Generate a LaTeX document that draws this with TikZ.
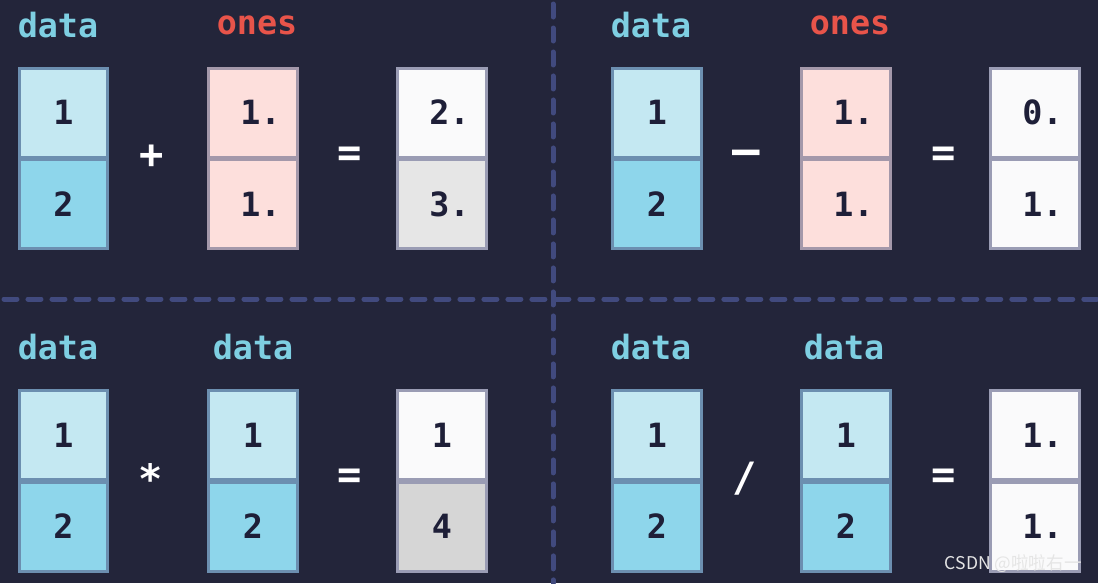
\documentclass[tikz,border=0pt]{standalone}
\usepackage{fontspec}
\setmonofont{DejaVu Sans Mono}
\newfontfamily\cjkfont{Noto Sans CJK SC}
\definecolor{bg}{HTML}{23253A}
\definecolor{dashc}{HTML}{414A7E}
\definecolor{dlight}{HTML}{C4E8F2}
\definecolor{ddark}{HTML}{8ED6EB}
\definecolor{dborder}{HTML}{6C8FB0}
\definecolor{opink}{HTML}{FDDFDC}
\definecolor{oborder}{HTML}{A498AA}
\definecolor{rwhite}{HTML}{FAFAFB}
\definecolor{rgray}{HTML}{E6E6E6}
\definecolor{rgrayd}{HTML}{D6D6D6}
\definecolor{rborder}{HTML}{9A9CB4}
\definecolor{txt}{HTML}{1E1F38}
\definecolor{lblue}{HTML}{7ECFE2}
\definecolor{lred}{HTML}{E8544A}
\tikzset{
  cell/.style={rectangle, inner sep=0pt, minimum width=1.78cm, minimum height=1.78cm, line width=0.06cm},
  dcellA/.style={cell, fill=dlight, draw=dborder},
  dcellB/.style={cell, fill=ddark, draw=dborder},
  ocell/.style={cell, fill=opink, draw=oborder},
  rcell/.style={cell, fill=rwhite, draw=rborder},
  rcellg/.style={cell, fill=rgray, draw=rborder},
  rcelld/.style={cell, fill=rgrayd, draw=rborder},
  num/.style={inner sep=0pt, text=txt, font=\ttfamily\bfseries\fontsize{19}{19}\selectfont},
  lbl/.style={inner sep=0pt, font=\ttfamily\bfseries\fontsize{19}{19}\selectfont},
  op/.style={inner sep=0pt, text=white, font=\ttfamily\bfseries\fontsize{23}{23}\selectfont},
  sep/.style={draw=dashc, line width=0.1cm, dash pattern=on 0.26cm off 0.22cm, line cap=round},
}
\begin{document}
\begin{tikzpicture}[x=0.02cm, y=-0.02cm]
\fill[bg] (0,0) rectangle (1098,583);
\useasboundingbox (0,0) rectangle (1098,583);
% separators
\coordinate (vt) at (553,4);
\coordinate (vb) at (553,583);
\coordinate (hl) at (4,299);
\coordinate (hr) at (1098,299);
\draw[sep] (vt) -- (vb);
\draw[sep] (hl) -- (hr);

% ---------- top-left: data + ones = ----------
\node[lbl, text=lblue] (l1) at (58,25) {data};
\node[lbl, text=lred] (l2) at (257,25) {ones};
\node[dcellA] (a1) at (63.5,112.5) {};
\node[dcellB] (a2) at (63.5,204) {};
\node[ocell] (b1) at (253,112.5) {};
\node[ocell] (b2) at (253,204) {};
\node[rcell] (c1) at (442,112.5) {};
\node[rcellg] (c2) at (442,204) {};
\node[num] at (a1) {1};
\node[num] at (a2) {2};
\node[num, anchor=east] at ([xshift=-0.36cm]b1.east) {1.};
\node[num, anchor=east] at ([xshift=-0.36cm]b2.east) {1.};
\node[num, anchor=east] at ([xshift=-0.36cm]c1.east) {2.};
\node[num, anchor=east] at ([xshift=-0.36cm]c2.east) {3.};
\node[op] (o1) at (152,157) {+};
\node[op] (e1) at (350,157) {=};

% ---------- top-right: data - ones = ----------
\node[lbl, text=lblue] (l3) at (651,25) {data};
\node[lbl, text=lred] (l4) at (850,25) {ones};
\node[dcellA] (d1) at (657,112.5) {};
\node[dcellB] (d2) at (657,204) {};
\node[ocell] (f1) at (846,112.5) {};
\node[ocell] (f2) at (846,204) {};
\node[rcell] (g1) at (1035,112.5) {};
\node[rcell] (g2) at (1035,204) {};
\node[num] at (d1) {1};
\node[num] at (d2) {2};
\node[num, anchor=east] at ([xshift=-0.36cm]f1.east) {1.};
\node[num, anchor=east] at ([xshift=-0.36cm]f2.east) {1.};
\node[num, anchor=east] at ([xshift=-0.36cm]g1.east) {0.};
\node[num, anchor=east] at ([xshift=-0.36cm]g2.east) {1.};
\node[op, font=\ttfamily\bfseries\fontsize{26}{26}\selectfont] (o2) at (746,157.5) {–};
\node[op] (e2) at (944,157) {=};

% ---------- bottom-left: data * data = ----------
\node[lbl, text=lblue] (l5) at (58,347) {data};
\node[lbl, text=lblue] (l6) at (253,347) {data};
\node[dcellA] (h1) at (63.5,435) {};
\node[dcellB] (h2) at (63.5,526.5) {};
\node[dcellA] (i1) at (253,435) {};
\node[dcellB] (i2) at (253,526.5) {};
\node[rcell] (j1) at (442,435) {};
\node[rcelld] (j2) at (442,526.5) {};
\node[num] at (h1) {1};
\node[num] at (h2) {2};
\node[num] at (i1) {1};
\node[num] at (i2) {2};
\node[num] at (j1) {1};
\node[num] at (j2) {4};
\node[op] (o3) at (151,478) {*};
\node[op] (e3) at (350,479) {=};

% ---------- bottom-right: data / data = ----------
\node[lbl, text=lblue] (l7) at (651,347) {data};
\node[lbl, text=lblue] (l8) at (844,347) {data};
\node[dcellA] (k1) at (657,435) {};
\node[dcellB] (k2) at (657,526.5) {};
\node[dcellA] (m1) at (846,435) {};
\node[dcellB] (m2) at (846,526.5) {};
\node[rcell] (n1) at (1035,435) {};
\node[rcell] (n2) at (1035,526.5) {};
\node[num] at (k1) {1};
\node[num] at (k2) {2};
\node[num] at (m1) {1};
\node[num] at (m2) {2};
\node[num, anchor=east] at ([xshift=-0.36cm]n1.east) {1.};
\node[num, anchor=east] at ([xshift=-0.36cm]n2.east) {1.};
\node[op] (o4) at (745,479) {/};
\node[op] (e4) at (944,479) {=};

% watermark
\node[inner sep=0pt, anchor=base east, text=white!80!gray, font=\cjkfont\fontsize{10}{10}\selectfont] (wm) at (1082,569) {CSDN @啦啦右一};
\end{tikzpicture}
\end{document}
